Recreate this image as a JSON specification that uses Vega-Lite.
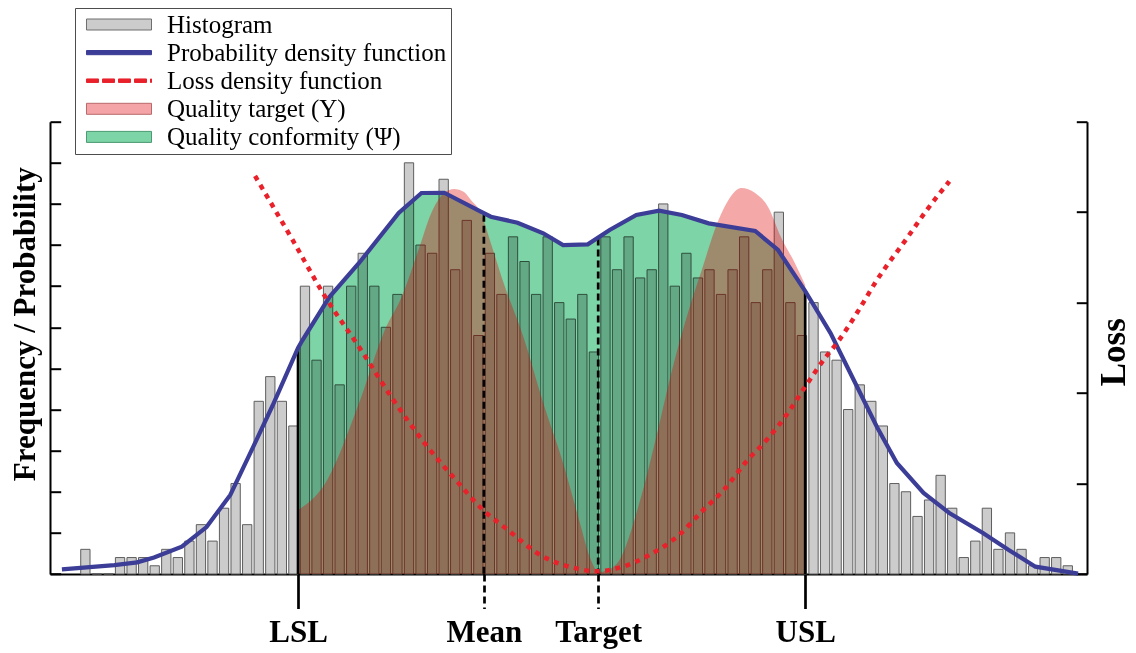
{
  "$schema": "https://vega.github.io/schema/vega-lite/v6.json",
  "width": 1037,
  "height": 452.3,
  "autosize": {"type": "none"},
  "padding": {"left": 50, "top": 121.7, "right": 49, "bottom": 79},
  "background": "white",
  "config": {"view": {"stroke": null}, "font": "Liberation Serif"},
  "datasets": {
    "hist": [
      {"bin":0,"count":3},{"bin":1,"count":0},{"bin":2,"count":0},{"bin":3,"count":2},{"bin":4,"count":2},
      {"bin":5,"count":2},{"bin":6,"count":1},{"bin":7,"count":3},{"bin":8,"count":2},{"bin":9,"count":4},
      {"bin":10,"count":6},{"bin":11,"count":4},{"bin":12,"count":8},{"bin":13,"count":11},{"bin":14,"count":6},
      {"bin":15,"count":21},{"bin":16,"count":24},{"bin":17,"count":21},{"bin":18,"count":18},{"bin":19,"count":35},
      {"bin":20,"count":26},{"bin":21,"count":35},{"bin":22,"count":23},{"bin":23,"count":35},{"bin":24,"count":39},
      {"bin":25,"count":35},{"bin":26,"count":30},{"bin":27,"count":34},{"bin":28,"count":50},{"bin":29,"count":40},
      {"bin":30,"count":39},{"bin":31,"count":48},{"bin":32,"count":37},{"bin":33,"count":43},{"bin":34,"count":29},
      {"bin":35,"count":39},{"bin":36,"count":34},{"bin":37,"count":41},{"bin":38,"count":38},{"bin":39,"count":34},
      {"bin":40,"count":41},{"bin":41,"count":33},{"bin":42,"count":31},{"bin":43,"count":34},{"bin":44,"count":27},
      {"bin":45,"count":41},{"bin":46,"count":37},{"bin":47,"count":41},{"bin":48,"count":36},{"bin":49,"count":37},
      {"bin":50,"count":45},{"bin":51,"count":35},{"bin":52,"count":39},{"bin":53,"count":36},{"bin":54,"count":37},
      {"bin":55,"count":34},{"bin":56,"count":37},{"bin":57,"count":41},{"bin":58,"count":33},{"bin":59,"count":37},
      {"bin":60,"count":44},{"bin":61,"count":33},{"bin":62,"count":29},{"bin":63,"count":33},{"bin":64,"count":27},
      {"bin":65,"count":26},{"bin":66,"count":20},{"bin":67,"count":23},{"bin":68,"count":21},{"bin":69,"count":18},
      {"bin":70,"count":11},{"bin":71,"count":10},{"bin":72,"count":7},{"bin":73,"count":9},{"bin":74,"count":12},
      {"bin":75,"count":8},{"bin":76,"count":2},{"bin":77,"count":4},{"bin":78,"count":8},{"bin":79,"count":3},
      {"bin":80,"count":5},{"bin":81,"count":3},{"bin":82,"count":1},{"bin":83,"count":2},{"bin":84,"count":2},
      {"bin":85,"count":1}
    ],
    "pdf": [
      {"x":-2.03,"y":0.57},{"x":2.51,"y":1.09},{"x":4.48,"y":1.42},{"x":5.94,"y":2.01},{"x":8.34,"y":3.32},
      {"x":10.48,"y":5.71},{"x":12.54,"y":9.61},{"x":14.51,"y":15.44},{"x":16.22,"y":20.55},{"x":18.40,"y":27.48},
      {"x":18.79,"y":28.45},{"x":21.11,"y":33.68},{"x":23.68,"y":37.82},{"x":27.11,"y":43.90},{"x":29.08,"y":46.33},
      {"x":31.05,"y":46.36},{"x":33.96,"y":44.26},{"x":35.08,"y":43.45},{"x":37.39,"y":42.72},{"x":39.62,"y":41.43},
      {"x":41.33,"y":40.00},{"x":43.47,"y":40.09},{"x":45.36,"y":41.83},{"x":47.67,"y":43.65},{"x":49.64,"y":44.18},
      {"x":51.61,"y":43.65},{"x":53.93,"y":42.64},{"x":57.95,"y":41.71},{"x":59.93,"y":39.40},{"x":62.28,"y":34.41},
      {"x":64.47,"y":29.30},{"x":66.78,"y":22.74},{"x":68.49,"y":17.87},{"x":70.21,"y":13.50},{"x":72.52,"y":9.85},
      {"x":74.75,"y":7.42},{"x":77.66,"y":4.99},{"x":79.89,"y":2.92},{"x":82.20,"y":0.89},{"x":85.89,"y":0.05}
    ],
    "target": [
      {"x":18.40,"y":7.78},{"x":20.77,"y":11.07},{"x":23.68,"y":20.79},{"x":25.91,"y":29.67},{"x":27.36,"y":33.68},
      {"x":28.82,"y":39.40},{"x":29.93,"y":43.90},{"x":31.05,"y":46.33},{"x":31.90,"y":46.81},{"x":32.76,"y":46.45},
      {"x":33.36,"y":45.48},{"x":34.22,"y":43.90},{"x":35.08,"y":40.25},{"x":36.19,"y":35.38},{"x":37.90,"y":28.82},
      {"x":39.62,"y":20.79},{"x":41.33,"y":13.50},{"x":42.79,"y":6.20},{"x":43.64,"y":2.07},{"x":44.41,"y":0.24},
      {"x":45.19,"y":0.49},{"x":46.21,"y":1.70},{"x":47.93,"y":8.63},{"x":49.39,"y":16.66},{"x":50.76,"y":24.81},
      {"x":52.21,"y":32.10},{"x":53.33,"y":36.96},{"x":54.78,"y":43.04},{"x":55.64,"y":45.48},{"x":56.75,"y":46.94},
      {"x":57.95,"y":46.33},{"x":59.07,"y":44.63},{"x":60.18,"y":40.98},{"x":61.38,"y":37.82},{"x":62.28,"y":35.14}
    ],
    "loss": [
      {"x":14.68,"loss":4.40},{"x":17.94,"loss":3.69},{"x":20.77,"loss":3.06},{"x":23.68,"loss":2.51},
      {"x":26.51,"loss":1.95},{"x":29.33,"loss":1.45},{"x":32.25,"loss":1.01},{"x":34.22,"loss":0.73},
      {"x":36.53,"loss":0.49},{"x":39.36,"loss":0.21},{"x":42.19,"loss":0.07},{"x":44.24,"loss":0.03},
      {"x":46.21,"loss":0.07},{"x":48.79,"loss":0.21},{"x":51.36,"loss":0.43},{"x":53.33,"loss":0.69},
      {"x":55.38,"loss":0.95},{"x":57.10,"loss":1.23},{"x":59.07,"loss":1.50},{"x":60.78,"loss":1.78},
      {"x":62.33,"loss":2.08},{"x":63.95,"loss":2.38},{"x":65.07,"loss":2.56},{"x":66.78,"loss":2.89},
      {"x":68.49,"loss":3.25},{"x":71.07,"loss":3.71},{"x":72.78,"loss":4.02},{"x":74.75,"loss":4.34}
    ],
    "limits": [
      {"name":"LSL","x":18.40,"top":27.48},
      {"name":"Mean","x":34.48,"top":43.7},
      {"name":"Target","x":44.37,"top":40.8},
      {"name":"USL","x":62.28,"top":34.41}
    ],
    "legendItems": [
      {"label":"Histogram"},
      {"label":"Probability density function"},
      {"label":"Loss density function"},
      {"label":"Quality target (Υ)"},
      {"label":"Quality conformity (Ψ)"}
    ]
  },
  "resolve": {"scale": {"y": "independent"}},
  "layer": [
    {
      "layer": [
        {
          "data": {"name": "hist"},
          "mark": {"type": "bar", "orient": "vertical", "width": 9.3, "fill": "#cccccc", "stroke": "#5e5e5e", "strokeWidth": 1},
          "encoding": {
            "x": {"field": "bin", "type": "quantitative",
                  "scale": {"domain": [-2.628, 86.23], "nice": false, "zero": false},
                  "axis": {"values": [18.40, 34.48, 44.37, 62.28],
                           "labelExpr": "datum.value < 25 ? 'LSL' : datum.value < 40 ? 'Mean' : datum.value < 50 ? 'Target' : 'USL'",
                           "tickSize": 34.6, "tickWidth": 2.7, "tickColor": "black",
                           "tickDash": {"condition": {"test": "datum.value > 30 && datum.value < 50", "value": [7, 4]}, "value": [1, 0]},
                           "domainColor": "black", "domainWidth": 2,
                           "labelFont": "Liberation Serif", "labelFontWeight": "bold", "labelFontSize": 31, "labelColor": "black",
                           "labelPadding": 9, "labelFlush": false, "labelOverlap": false, "labelBound": false,
                           "grid": false, "title": null}},
            "y": {"field": "count", "type": "quantitative",
                  "scale": {"domain": [0, 55], "nice": false},
                  "axis": {"values": [0,5,10,15,20,25,30,35,40,45,50,55],
                           "tickSize": -10.7, "tickWidth": 2, "tickColor": "black",
                           "labels": false, "grid": false,
                           "domainColor": "black", "domainWidth": 2,
                           "title": "Frequency / Probability",
                           "titleFont": "Liberation Serif", "titleFontWeight": "bold", "titleFontSize": 31, "titleColor": "black",
                           "titleX": -25, "titleY": 202, "titleAngle": -90, "titleBaseline": "middle", "titleAlign": "center"}}
          }
        },
        {
          "data": {"name": "pdf"},
          "transform": [{"filter": "datum.x >= 18.40 && datum.x <= 62.28"}],
          "mark": {"type": "area", "color": "#7dd4a6", "blend": "multiply", "interpolate": "linear"},
          "encoding": {
            "x": {"field": "x", "type": "quantitative", "scale": {"domain": [-2.628, 86.23], "nice": false, "zero": false}},
            "y": {"field": "y", "type": "quantitative", "scale": {"domain": [0, 55], "nice": false}}
          }
        },
        {
          "data": {"name": "target"},
          "mark": {"type": "area", "color": "#df0000", "opacity": 0.34, "interpolate": "monotone"},
          "encoding": {
            "x": {"field": "x", "type": "quantitative", "scale": {"domain": [-2.628, 86.23], "nice": false, "zero": false}},
            "y": {"field": "y", "type": "quantitative", "scale": {"domain": [0, 55], "nice": false}}
          }
        },
        {
          "data": {"name": "limits"},
          "mark": {"type": "rule", "color": "black", "strokeWidth": 2.7},
          "encoding": {
            "x": {"field": "x", "type": "quantitative", "scale": {"domain": [-2.628, 86.23], "nice": false, "zero": false}},
            "y": {"field": "top", "type": "quantitative", "scale": {"domain": [0, 55], "nice": false}},
            "y2": {"datum": 0},
            "strokeDash": {"condition": {"test": "datum.name == 'Mean' || datum.name == 'Target'", "value": [7, 4]}, "value": [1, 0]}
          }
        },
        {
          "data": {"name": "pdf"},
          "mark": {"type": "line", "color": "#3b3d97", "strokeWidth": 4.2, "interpolate": "linear"},
          "encoding": {
            "x": {"field": "x", "type": "quantitative", "scale": {"domain": [-2.628, 86.23], "nice": false, "zero": false}},
            "y": {"field": "y", "type": "quantitative", "scale": {"domain": [0, 55], "nice": false}}
          }
        },
        {
          "data": {"name": "legendItems"},
          "mark": {"type": "point", "opacity": 0},
          "encoding": {
            "fill": {"field": "label", "type": "nominal",
                     "scale": {"domain": ["Histogram","Probability density function","Loss density function","Quality target (Υ)","Quality conformity (Ψ)"],
                               "range": ["#cccccc","#3b3d97","#e8212b","#f4a4a6","#7dd4a6"]},
                     "legend": {"orient":"none","legendX":25,"legendY":-113.7,"title":null,"padding":4,"strokeColor":"#4d4d4d","fillColor":"white","symbolSize":484,"symbolOffset":27.5,"symbolStrokeWidth":1,"symbolOpacity":1,"labelOffset":35.5,"labelFont":"Liberation Serif","labelFontSize":25,"labelColor":"black","labelLimit":600,"rowPadding":2.1}},
            "stroke": {"field": "label", "type": "nominal",
                     "scale": {"domain": ["Histogram","Probability density function","Loss density function","Quality target (Υ)","Quality conformity (Ψ)"],
                               "range": ["#6e6e6e","#3b3d97","#e8212b","#b86a6a","#4a9a72"]},
                     "legend": {"orient":"none","legendX":25,"legendY":-113.7,"title":null,"padding":4,"strokeColor":"#4d4d4d","fillColor":"white","symbolSize":484,"symbolOffset":27.5,"symbolStrokeWidth":1,"symbolOpacity":1,"labelOffset":35.5,"labelFont":"Liberation Serif","labelFontSize":25,"labelColor":"black","labelLimit":600,"rowPadding":2.1}},
            "shape": {"field": "label", "type": "nominal",
                     "scale": {"domain": ["Histogram","Probability density function","Loss density function","Quality target (Υ)","Quality conformity (Ψ)"],
                               "range": ["M-2.955,-0.5H2.955V0.5H-2.955Z",
                                         "M-2.955,-0.19H2.955V0.19H-2.955Z",
                                         "M-2.955,-0.16H-1.864V0.16H-2.955Z M-1.5,-0.16H-0.409V0.16H-1.5Z M-0.045,-0.16H1.045V0.16H-0.045Z M1.409,-0.16H2.5V0.16H1.409Z M2.864,-0.16H2.955V0.16H2.864Z",
                                         "M-2.955,-0.5H2.955V0.5H-2.955Z",
                                         "M-2.955,-0.5H2.955V0.5H-2.955Z"]},
                     "legend": {"orient":"none","legendX":25,"legendY":-113.7,"title":null,"padding":4,"strokeColor":"#4d4d4d","fillColor":"white","symbolSize":484,"symbolOffset":27.5,"symbolStrokeWidth":1,"symbolOpacity":1,"labelOffset":35.5,"labelFont":"Liberation Serif","labelFontSize":25,"labelColor":"black","labelLimit":600,"rowPadding":2.1}}
          }
        }
      ]
    },
    {
      "data": {"name": "loss"},
      "mark": {"type": "line", "color": "#e8212b", "strokeWidth": 4.5, "strokeDash": [5, 5.5], "interpolate": "monotone"},
      "encoding": {
        "x": {"field": "x", "type": "quantitative", "scale": {"domain": [-2.628, 86.23], "nice": false, "zero": false}},
        "y": {"field": "loss", "type": "quantitative",
              "scale": {"domain": [0, 5], "nice": false},
              "axis": {"orient": "right", "values": [0,1,2,3,4,5],
                       "tickSize": -10.7, "tickWidth": 2, "tickColor": "black",
                       "labels": false, "grid": false,
                       "domainColor": "black", "domainWidth": 2,
                       "title": "Loss",
                       "titleFont": "Liberation Serif", "titleFontWeight": "bold", "titleFontSize": 35, "titleColor": "black",
                       "titleX": 26.5, "titleY": 230, "titleAngle": -90, "titleBaseline": "middle", "titleAlign": "center"}}
      }
    }
  ]
}
